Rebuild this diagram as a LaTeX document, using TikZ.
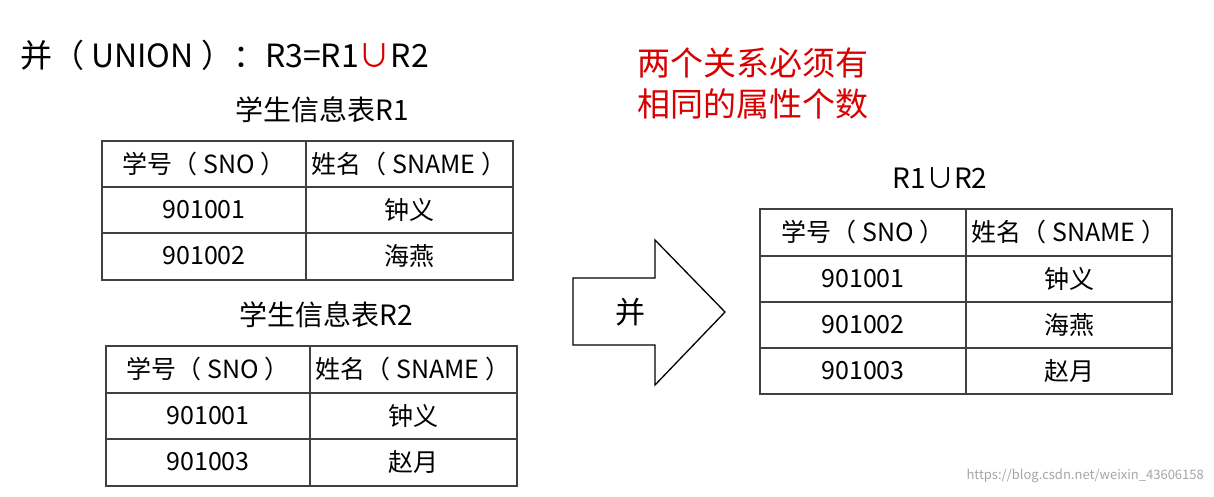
\documentclass[tikz,border=0pt]{standalone}
\usepackage{fontspec}
\setmainfont{Noto Sans CJK SC}
\begin{document}
\begin{tikzpicture}[x=1pt,y=-1pt,
 cell/.style={font=\fontsize{25}{28}\selectfont,anchor=center,inner sep=0},
 grid/.style={draw=black!75,line width=1.2pt}]
\useasboundingbox (0,0) rectangle (1214,496);
\fill[white] (0,0) rectangle (1214,496);
\node[anchor=west,inner sep=0,font=\fontsize{32}{36}\selectfont] (title) at (20,55) {并（ UNION ）：R3=R1\textcolor{red!85!black}{∪}R2};
\node[anchor=west,inner sep=0,align=left,text=red!85!black,font=\fontsize{33}{41}\selectfont] (note) at (637,83) {两个关系必须有\\相同的属性个数};
% Table R1
\node[cell,font=\fontsize{28}{30}\selectfont] (c1) at (322,110) {学生信息表R1};
\draw[grid] (102,141) rectangle (513,280);
\draw[grid] (102,187) -- (513,187) (102,233) -- (513,233) (306,141) -- (306,280);
\node[cell] (a11) at (204,164) {学号（ SNO ）}; \node[cell] (a12) at (409,164) {姓名（ SNAME ）};
\node[cell] (a21) at (204,210) {901001}; \node[cell] (a22) at (409,210) {钟义};
\node[cell] (a31) at (204,256) {901002}; \node[cell] (a32) at (409,256) {海燕};
% Table R2
\node[cell,font=\fontsize{28}{30}\selectfont] (c2) at (326,315) {学生信息表R2};
\draw[grid] (106,346) rectangle (517,486);
\draw[grid] (106,393) -- (517,393) (106,439) -- (517,439) (310,346) -- (310,486);
\node[cell] (b11) at (208,369) {学号（ SNO ）}; \node[cell] (b12) at (413,369) {姓名（ SNAME ）};
\node[cell] (b21) at (208,416) {901001}; \node[cell] (b22) at (413,416) {钟义};
\node[cell] (b31) at (208,462) {901003}; \node[cell] (b32) at (413,462) {赵月};
% Arrow
\draw[line width=1.3pt,fill=white] (573,278) -- (655,278) -- (655,240) -- (725,312) -- (655,385) -- (655,345) -- (573,345) -- cycle;
\node[cell,font=\fontsize{30}{32}\selectfont] (u) at (630,312) {并};
% Result
\node[cell,font=\fontsize{28}{30}\selectfont] (c3) at (940,178) {R1∪R2};
\draw[grid] (760,209) rectangle (1172,394);
\draw[grid] (760,256) -- (1172,256) (760,302) -- (1172,302) (760,348) -- (1172,348) (966,209) -- (966,394);
\node[cell] (r11) at (863,232) {学号（ SNO ）}; \node[cell] (r12) at (1069,232) {姓名（ SNAME ）};
\node[cell] (r21) at (863,279) {901001}; \node[cell] (r22) at (1069,279) {钟义};
\node[cell] (r31) at (863,325) {901002}; \node[cell] (r32) at (1069,325) {海燕};
\node[cell] (r41) at (863,371) {901003}; \node[cell] (r42) at (1069,371) {赵月};
\node[anchor=east,inner sep=0,text=black!35,font=\fontsize{13}{15}\selectfont] (wm) at (1204,476) {https://blog.csdn.net/weixin\_43606158};
\end{tikzpicture}
\end{document}
